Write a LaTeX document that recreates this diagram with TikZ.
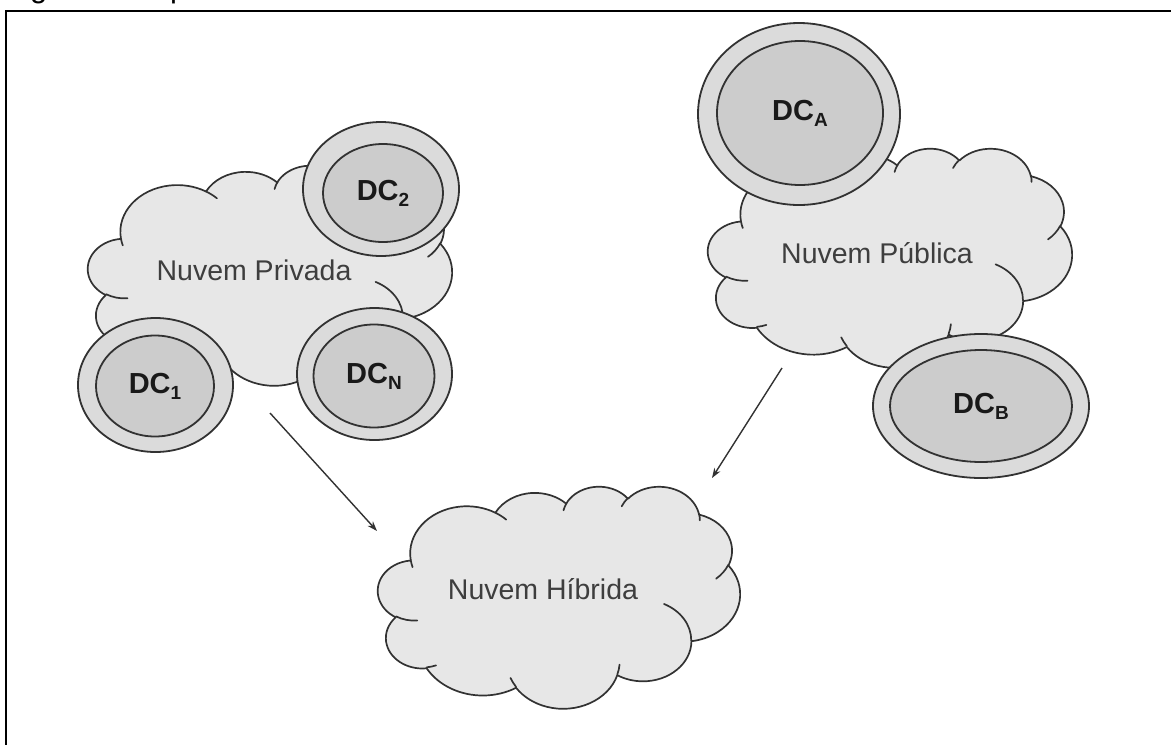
\documentclass[tikz,border=0pt]{standalone}
\usepackage{fontspec}
\setmainfont{Liberation Sans}
\usetikzlibrary{shapes.geometric,arrows.meta}

\definecolor{cloudfill}{RGB}{231,231,231}
\definecolor{ringfill}{RGB}{219,219,219}
\definecolor{corefill}{RGB}{204,204,204}
\definecolor{edge}{RGB}{50,50,50}
\definecolor{labelgray}{RGB}{62,62,62}
\definecolor{dctext}{RGB}{25,25,25}

\newcommand\dcsub[1]{\raisebox{-6pt}{\fontsize{19pt}{19pt}\selectfont #1}}

\tikzset{
  % elliptical arc given by radii, visual start angle and visual sweep
  oarc/.code n args={4}{%
    \pgfmathsetmacro\oarcS{atan2((#1)*sin(#3),(#2)*cos(#3))}%
    \pgfmathsetmacro\oarcE{atan2((#1)*sin((#3)+(#4)),(#2)*cos((#3)+(#4)))}%
    \pgfmathsetmacro\oarcD{mod(\oarcE-(\oarcS)+720,360)}%
    \edef\oarcKeys{\noexpand\pgfkeysalso{x radius=#1,y radius=#2,start angle=\oarcS,delta angle=\oarcD}}%
    \oarcKeys
  },
  % puffy cloud drawn in a 432 x 432 box, origin at its top left corner
  officecloud/.pic={
    \path[fill=cloudfill, draw=edge, line width=1.7pt, line join=round]
      (39,143.70)
      arc[oarc={67.53}{91.90}{-190.48748}{123.78053}]
      arc[oarc={53.33}{72.67}{-144.10238}{89.94523}]
      arc[oarc={43.65}{59.45}{-145.80792}{99.72302}]
      arc[oarc={48.57}{65.95}{-130.98607}{117.24173}]
      arc[oarc={53.33}{72.73}{-78.70888}{109.02692}]
      arc[oarc={67.75}{92.20}{-46.26725}{130.26900}]
      arc[oarc={57.85}{78.67}{0.62502}{114.03333}]
      arc[oarc={67.52}{92.15}{22.45160}{115.17255}]
      arc[oarc={77.20}{105.43}{66.24263}{75.71102}]
      arc[oarc={43.60}{59.18}{-274.94208}{146.73557}]
      arc[oarc={43.45}{59.45}{-246.82850}{152.51885}]
      -- cycle;
    \path[draw=edge, line width=1.7pt, line cap=round]
      (46.93,261.77) arc[oarc={43.45}{59.45}{86.74200}{26.42950}]
      (69.28,348.99) arc[oarc={43.60}{59.18}{73.61047}{11.44747}]
      (164.78,390.90) arc[oarc={67.52}{92.15}{137.62415}{14.08110}]
      (288.27,347.51) arc[oarc={67.52}{92.15}{6.45327}{15.99835}]
      (341.29,229.54) arc[oarc={57.85}{78.67}{-70.29235}{70.91737}]
      (417.98,153.54) arc[oarc={53.33}{72.73}{30.31803}{27.75150}]
      (383.24,54.26) arc[oarc={48.57}{65.95}{-13.74433}{14.85375}]
      (290.78,39.52) arc[oarc={48.57}{65.95}{-149.18145}{18.19797}]
      (221.41,47.20) arc[oarc={43.65}{59.45}{-163.49427}{17.69100}]
      (140.00,51.92) arc[oarc={67.53}{91.90}{-66.70695}{12.31935}]
      (41.27,157.89) arc[oarc={67.53}{91.90}{157.65435}{11.85817}];
  },
  dcring/.style={ellipse, draw=edge, fill=ringfill, line width=1.8pt, inner sep=0pt},
  dccore/.style={ellipse, draw=edge, fill=corefill, line width=1.8pt, inner sep=0pt,
    font=\bfseries\fontsize{29pt}{29pt}\selectfont, text=dctext},
  cloudlabel/.style={anchor=base, inner sep=0pt, font=\fontsize{28.5pt}{30pt}\selectfont, text=labelgray},
  flow/.style={draw=edge, line width=1.4pt, -{Stealth[length=10pt,width=7pt]}},
}

\begin{document}
\begin{tikzpicture}[x=1pt, y=-1pt]
\useasboundingbox (0,0) rectangle (1171,745);
\clip (0,0) rectangle (1171,745);
\fill[white] (0,0) rectangle (1171,745);

% caption above the frame, mostly outside the page
\node[anchor=base west, inner sep=0pt, font=\fontsize{31pt}{31pt}\selectfont] (caption) at (4,-3) {Figura 3 - Tipos de nuvens};

% frame
\draw[line width=2pt] (1171,10.5) -- (5.5,10.5) -- (5.5,745);

% private cloud with its data centres
\pic[xscale=0.8426, yscale=0.5093] at (88,165) {officecloud};
\node[cloudlabel] (priv) at (254,280) {Nuvem Privada};
\node[dcring, minimum width=156pt, minimum height=134pt] (dc2o) at (381,189) {};
\node[dccore, minimum width=120pt, minimum height=98pt] (dc2) at (383,193) {DC\dcsub{2}};
\node[dcring, minimum width=155pt, minimum height=134pt] (dc1o) at (155.5,385) {};
\node[dccore, minimum width=118pt, minimum height=101pt] (dc1) at (155,386) {DC\dcsub{1}};
\node[dcring, minimum width=155pt, minimum height=132pt] (dcno) at (374.5,374) {};
\node[dccore, minimum width=121pt, minimum height=103pt] (dcn) at (374,376) {DC\dcsub{N}};

% public cloud with its data centres
\pic[xscale=0.8426, yscale=0.5069] at (708,148) {officecloud};
\node[cloudlabel] (pub) at (877,263) {Nuvem Pública};
\node[dcring, minimum width=202pt, minimum height=182pt] (dcao) at (799,114) {};
\node[dccore, minimum width=166pt, minimum height=144pt] (dca) at (800,113) {DC\dcsub{A}};
\node[dcring, minimum width=216pt, minimum height=144pt] (dcbo) at (981,406) {};
\node[dccore, minimum width=182pt, minimum height=112pt] (dcb) at (981,406) {DC\dcsub{B}};

% hybrid cloud
\pic[xscale=0.8380, yscale=0.5139] at (378,486) {officecloud};
\node[cloudlabel] (hyb) at (543,599) {Nuvem Híbrida};

% connectors
\coordinate (privout) at (270,413);
\coordinate (hybinl) at (377,531);
\coordinate (pubout) at (782,368);
\coordinate (hybinr) at (712,478);
\draw[flow] (privout) -- (hybinl);
\draw[flow] (pubout) -- (hybinr);
\end{tikzpicture}
\end{document}
